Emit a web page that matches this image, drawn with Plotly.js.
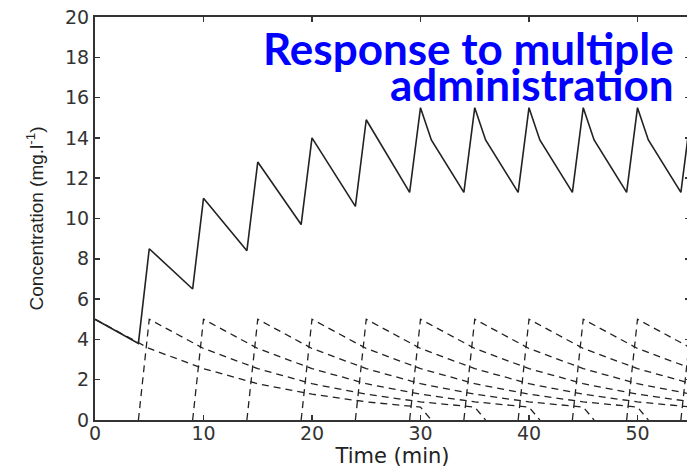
<!DOCTYPE html>
<html>
<head>
<meta charset="utf-8">
<script src="https://cdn.plot.ly/plotly-3.0.1.min.js"></script>
<style>
  html, body { margin: 0; padding: 0; overflow: hidden; background: #fff; }
  #chart { width: 692px; height: 468px; }
</style>
</head>
<body>
<div id="chart"></div>
<script>
// Total concentration (solid line)
const sumTimes  = [0, 4, 5, 9, 10, 14, 15, 19, 20, 24, 25, 29, 30, 31, 34, 35, 36, 39, 40, 41, 44, 45, 46, 49, 50, 51, 54, 55];
const sumValues = [5.0, 3.8, 8.5, 6.5, 11.0, 8.4, 12.8, 9.7, 14.0, 10.6, 14.9, 11.3, 15.5, 13.9, 11.3, 15.5, 13.9, 11.3, 15.5, 13.9, 11.3, 15.5, 13.9, 11.3, 15.5, 13.9, 11.3, 15.5];

// Individual doses (dashed lines): time of each dose peak
const doseTimes = [0, 5, 10, 15, 20, 25, 30, 35, 40, 45, 50, 55];
// One dose curve: offset from its peak (min) and concentration
const doseOffsets = [-1, 0, 5, 10, 15, 20, 25, 30, 31];
const doseValues  = [0, 5.0, 3.55, 2.55, 1.8, 1.28, 0.9, 0.64, 0];

// Tick labels
const xTicks = [0, 10, 20, 30, 40, 50];
const yTicks = [0, 2, 4, 6, 8, 10, 12, 14, 16, 18, 20];

const traces = [];
doseTimes.forEach((t0, k) => {
  const xs = [], ys = [];
  doseOffsets.forEach((off, i) => {
    if (k === 0 && off < 0) return; // first dose starts at its peak
    xs.push(t0 + off);
    ys.push(doseValues[i]);
  });
  traces.push({
    x: xs, y: ys, type: 'scatter', mode: 'lines',
    line: { color: '#222', width: 1.3, dash: '7px,5px' },
    hoverinfo: 'skip', showlegend: false
  });
});
traces.push({
  x: sumTimes, y: sumValues, type: 'scatter', mode: 'lines',
  line: { color: '#222', width: 1.6 },
  showlegend: false
});

const axisCommon = {
  showgrid: false, zeroline: false,
  showline: true, linecolor: '#333', linewidth: 2, mirror: 'ticks',
  ticks: 'inside', ticklen: 5, tickwidth: 1.5, tickcolor: '#333',
  tickfont: { family: 'DejaVu Sans', size: 19, color: '#333' }
};

const layout = {
  width: 692, height: 468,
  margin: { l: 95, r: 2, t: 17, b: 48 },
  paper_bgcolor: '#fff', plot_bgcolor: '#fff',
  xaxis: Object.assign({}, axisCommon, {
    range: [0, 54.84], tickvals: xTicks, ticktext: xTicks.map(String),
    ticklabelstandoff: -5,
    title: { text: 'Time (min)', font: { family: 'DejaVu Sans', size: 21, color: '#222' }, standoff: 0 }
  }),
  yaxis: Object.assign({}, axisCommon, {
    range: [0, 20], tickvals: yTicks, ticktext: yTicks.map(String),
    title: { text: 'Concentration (mg.l<sup>-1</sup>)', font: { family: 'Liberation Sans', size: 19, color: '#222' }, standoff: 16 }
  }),
  annotations: [
    { text: '<b>Response to multiple</b>', xref: 'paper', yref: 'paper', x: 0.9765, y: 0.923,
      xanchor: 'right', yanchor: 'middle', showarrow: false,
      font: { family: 'Lato', size: 44, color: '#0000ff' } },
    { text: '<b>administration</b>', xref: 'paper', yref: 'paper', x: 0.9765, y: 0.834,
      xanchor: 'right', yanchor: 'middle', showarrow: false,
      font: { family: 'Lato', size: 44, color: '#0000ff' } }
  ]
};

Plotly.newPlot('chart', traces, layout, { displayModeBar: false, staticPlot: true });
</script>
</body>
</html>
